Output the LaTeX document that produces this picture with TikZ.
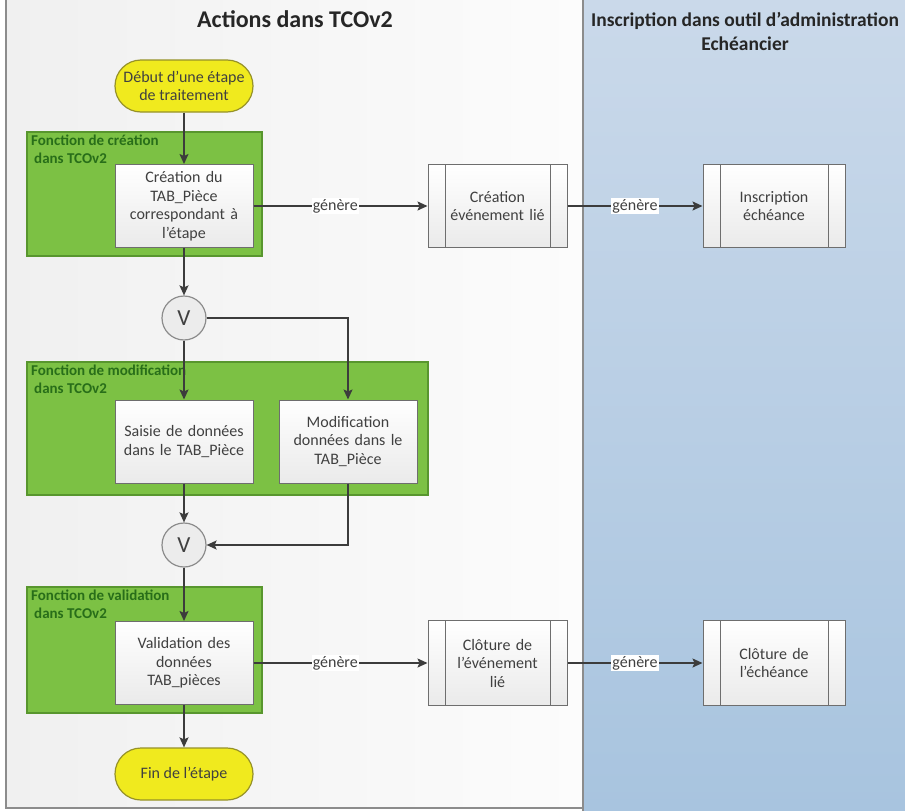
\documentclass[tikz,border=0pt]{standalone}
\usepackage{fontspec}
\setmainfont{Carlito}
\usetikzlibrary{arrows.meta,shapes.misc,calc}

\definecolor{laneL}{RGB}{240,240,240}
\definecolor{laneR}{RGB}{252,252,252}
\definecolor{blueTop}{RGB}{202,217,234}
\definecolor{blueBot}{RGB}{168,196,223}
\definecolor{laneLine}{RGB}{140,140,140}
\definecolor{grpFill}{RGB}{124,193,68}
\definecolor{grpLine}{RGB}{88,150,46}
\definecolor{grpText}{RGB}{40,110,25}
\definecolor{termFill}{RGB}{240,234,30}
\definecolor{termLine}{RGB}{150,146,40}
\definecolor{boxLine}{RGB}{110,110,110}
\definecolor{boxBot}{RGB}{234,234,234}
\definecolor{txt}{RGB}{64,64,64}
\definecolor{arrowCol}{RGB}{60,60,60}
\definecolor{circFill}{RGB}{236,236,236}

\tikzset{
  body/.style={font=\fontsize{16}{18.5}\selectfont, text=txt, align=center},
  terminal/.style={body, rounded rectangle, draw=termLine, line width=1.2pt,
    fill=termFill, minimum width=142pt, minimum height=52pt, inner sep=2pt},
  group/.style={draw=grpLine, line width=1.2pt, fill=grpFill, inner sep=0pt},
  grplabel/.style={font=\fontsize{15}{18}\selectfont\bfseries, text=grpText,
    align=left, anchor=north west, inner sep=0pt},
  task/.style={body, draw=boxLine, line width=1pt, top color=white,
    bottom color=boxBot, minimum width=138pt, minimum height=83pt,
    text width=132pt, inner sep=2pt},
  subproc/.style={task, minimum width=139pt, text width=104pt,
    path picture={
      \draw[boxLine, line width=1pt]
        ([xshift=17pt]path picture bounding box.north west) --
        ([xshift=17pt]path picture bounding box.south west);
      \draw[boxLine, line width=1pt]
        ([xshift=-17pt]path picture bounding box.north east) --
        ([xshift=-17pt]path picture bounding box.south east);}},
  merge/.style={circle, draw=laneLine, line width=1.2pt, fill=circFill,
    minimum size=44pt, inner sep=0pt, font=\fontsize{23}{25}\selectfont, text=txt},
  flow/.style={draw=arrowCol, line width=1.6pt,
    -{Stealth[length=10pt, width=9pt, inset=2pt]}},
  lbl/.style={fill=white, inner sep=1pt, font=\fontsize{16}{18}\selectfont, text=txt},
  lanetitle/.style={text=black!85, align=center}
}

\begin{document}
\begin{tikzpicture}[x=1pt, y=-1pt]
\useasboundingbox (0,0) rectangle (905,811);

% swimlanes
\shade[left color=laneL, right color=laneR] (6,0) rectangle (583,808);
\shade[top color=blueTop, bottom color=blueBot] (583,0) rectangle (905,811);
\draw[laneLine, line width=1.5pt] (6,0) -- (6,808) -- (583,808);
\draw[laneLine, line width=1.5pt] (583,0) -- (583,811);

\node[lanetitle, font=\fontsize{24}{26}\selectfont\bfseries] (titleA) at (295,19) {Actions dans TCOv2};
\node[lanetitle, font=\fontsize{19.5}{24}\selectfont\bfseries] (titleB) at (745,31)
  {Inscription dans outil d’administration\\Echéancier};

% function groups
\node[group, minimum width=235pt, minimum height=124pt] (g1) at (144.5,194) {};
\node[grplabel] (g1l) at (31,135) {Fonction de création\\\hspace*{3pt}dans TCOv2};
\node[group, minimum width=401pt, minimum height=133pt] (g2) at (227.5,428.5) {};
\node[grplabel] (g2l) at (31,365) {Fonction de modification\\\hspace*{3pt}dans TCOv2};
\node[group, minimum width=235pt, minimum height=126pt] (g3) at (144.5,650) {};
\node[grplabel] (g3l) at (31,590) {Fonction de validation\\\hspace*{3pt}dans TCOv2};

% steps
\node[terminal] (start) at (184,86) {Début d’une étape\\de traitement};
\node[task] (c1) at (184,206) {Création du\\TAB\_Pièce\\correspondant à\\l’étape};
\node[subproc] (ev1) at (497.5,206) {Création\\événement lié};
\node[subproc, minimum width=142pt] (ins1) at (774,206) {Inscription\\échéance};
\node[merge] (v1) at (184,318) {V};
\node[task] (saisie) at (184,441.5) {Saisie de données\\dans le TAB\_Pièce};
\node[task] (modif) at (348,441.5) {Modification\\données dans le\\TAB\_Pièce};
\node[merge] (v2) at (184,545) {V};
\node[task] (valid) at (184,663) {Validation des\\données\\TAB\_pièces};
\node[subproc, minimum height=85pt] (ev2) at (497.5,663) {Clôture de\\l’événement\\lié};
\node[subproc, minimum width=142pt, minimum height=85pt] (ins2) at (774,663) {Clôture de\\l’échéance};
\node[terminal] (fin) at (184,774) {Fin de l’étape};

% connectors
\draw[flow] (start) -- (c1);
\draw[flow] (c1) -- node[lbl, pos=0.47] {génère} (ev1);
\draw[flow] (ev1) -- node[lbl, pos=0.5] {génère} (ins1);
\draw[flow] (c1) -- (v1);
\draw[flow] (v1) -- (saisie);
\draw[flow] (v1) -| (modif);
\draw[flow] (saisie) -- (v2);
\draw[flow] (modif) |- (v2);
\draw[flow] (v2) -- (valid);
\draw[flow] (valid) -- node[lbl, pos=0.47] {génère} (ev2);
\draw[flow] (ev2) -- node[lbl, pos=0.5] {génère} (ins2);
\draw[flow] (valid) -- (fin);
\end{tikzpicture}
\end{document}
